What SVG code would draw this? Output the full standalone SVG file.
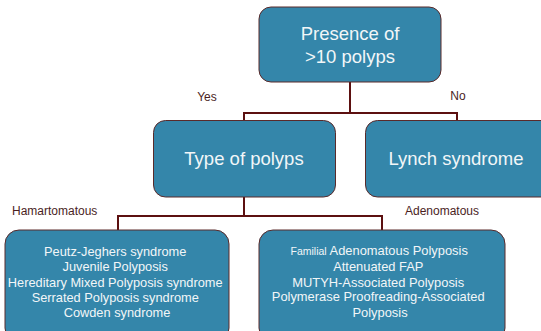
<svg xmlns="http://www.w3.org/2000/svg" width="541" height="331" viewBox="0 0 541 331">
  <style>
    .box { fill: #3486aa; stroke: #5a2a2a; stroke-width: 1; }
    .txt { fill: #f2f6f8; font-family: "Liberation Sans", Arial, sans-serif; text-anchor: middle; }
    .lbl { fill: #4a1e1e; font-family: "Liberation Sans", Arial, sans-serif; font-size: 12px; }
    .wire { fill: none; stroke: #5c1010; stroke-width: 2; }
  </style>
  <rect width="541" height="331" fill="#ffffff"/>

  <g id="connectors">
    <path class="wire" d="M350 82 V113 M244 121 V113 H457 V121"/>
    <path class="wire" d="M244 197 V216 M118 230 V216 H382 V230"/>
  </g>

  <g id="labels">
    <text class="lbl" x="207" y="101" text-anchor="middle">Yes</text>
    <text class="lbl" x="458" y="100" text-anchor="middle">No</text>
    <text class="lbl" x="12" y="215">Hamartomatous</text>
    <text class="lbl" x="442" y="215" text-anchor="middle">Adenomatous</text>
  </g>

  <g id="presence">
    <rect class="box" x="259" y="7" width="182" height="75" rx="12"/>
    <text class="txt" x="350" y="40" font-size="18.5">Presence of</text>
    <text class="txt" x="350" y="63" font-size="18.5">&gt;10 polyps</text>
  </g>

  <g id="type-of-polyps">
    <rect class="box" x="153.5" y="120.5" width="182" height="76.5" rx="12"/>
    <text class="txt" x="244" y="165" font-size="18.5">Type of polyps</text>
  </g>

  <g id="lynch">
    <rect class="box" x="365.5" y="120.5" width="190" height="76.5" rx="12"/>
    <text class="txt" x="456" y="165" font-size="18.5">Lynch syndrome</text>
  </g>

  <g id="hamartomatous">
    <rect class="box" x="5" y="230" width="224" height="112" rx="14"/>
    <text class="txt" font-size="12.8">
      <tspan x="117" y="256">Peutz-Jeghers syndrome</tspan>
      <tspan x="117" y="271">Juvenile Polyposis</tspan>
      <tspan x="117" y="287">Hereditary Mixed Polyposis syndrome</tspan>
      <tspan x="117" y="302">Serrated Polyposis syndrome</tspan>
      <tspan x="117" y="317">Cowden syndrome</tspan>
    </text>
  </g>

  <g id="adenomatous">
    <rect class="box" x="259" y="230" width="246" height="112" rx="14"/>
    <text class="txt" font-size="12.9">
      <tspan x="381" y="255"><tspan font-size="10.5">Familial</tspan> Adenomatous Polyposis</tspan>
      <tspan x="380" y="271">Attenuated FAP</tspan>
      <tspan x="380" y="287">MUTYH-Associated Polyposis</tspan>
      <tspan x="380" y="301">Polymerase Proofreading-Associated</tspan>
      <tspan x="380" y="317">Polyposis</tspan>
    </text>
  </g>
</svg>
